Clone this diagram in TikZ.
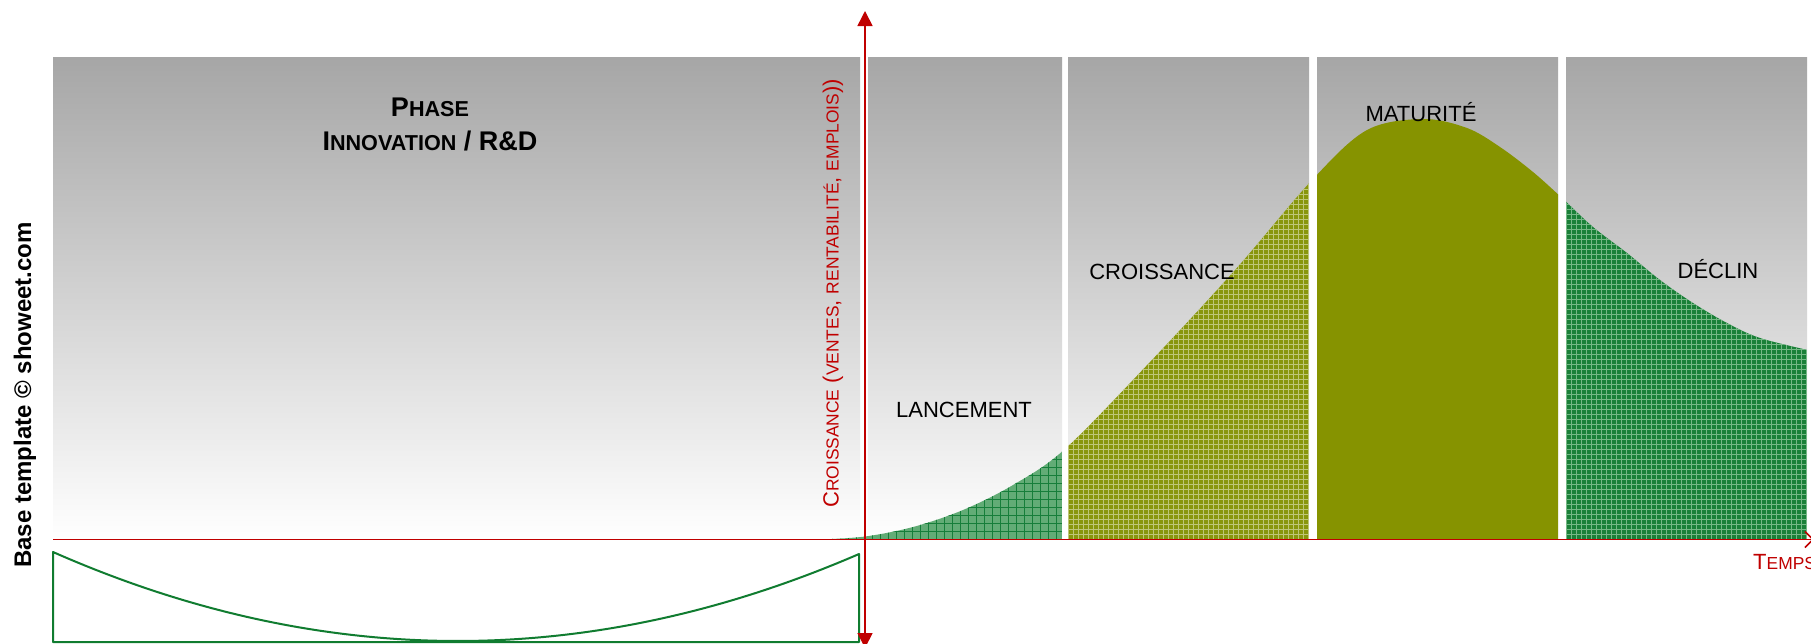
\documentclass[tikz,border=0pt]{standalone}
\usepackage{fontspec}
\setmainfont{Liberation Sans}
\usetikzlibrary{arrows.meta}
\definecolor{axisred}{RGB}{192,0,0}
\definecolor{panelgray}{RGB}{166,166,166}
\definecolor{lanbase}{RGB}{98,172,118}
\definecolor{lanline}{RGB}{22,126,58}
\definecolor{crobase}{RGB}{136,150,12}
\definecolor{croline}{RGB}{190,198,120}
\definecolor{matfill}{RGB}{134,147,0}
\definecolor{decbase}{RGB}{26,128,56}
\definecolor{decline}{RGB}{118,184,134}
\definecolor{boxgreen}{RGB}{16,124,48}
\newcommand\scA[1]{{\fontsize{17.4}{20}\selectfont #1}}
\newcommand\scB[1]{{\fontsize{21.6}{26}\selectfont #1}}
\tikzset{
  panel/.style={top color=panelgray, bottom color=white, draw=none},
  bellcurve/.style={insert path={-- plot[smooth, tension=0.55] coordinates {
    (820,539.5) (865,536.5) (913,527) (963,510) (1013,485) (1065,449)
    (1150,362) (1235,270) (1313,179) (1367,130) (1423,119) (1467,128)
    (1500,147) (1533,172) (1562,198) (1593,227) (1627,253) (1660,280)
    (1693,303) (1727,323) (1760,338) (1812,351)}}},
  phaselabel/.style={font=\fontsize{22}{26}\selectfont, text=black, inner sep=0pt, anchor=base},
  titlelabel/.style={font=\bfseries\fontsize{27}{32}\selectfont, text=black, inner sep=0pt, anchor=base},
  axislabel/.style={font=\fontsize{22}{26}\selectfont, text=axisred, inner sep=0pt},
  creditlabel/.style={font=\bfseries\fontsize{24}{28}\selectfont, text=black, inner sep=0pt},
  axisline/.style={draw=axisred, line width=1.6pt},
  boxline/.style={draw=boxgreen, line width=2pt, line join=round},
}
\begin{document}
\begin{tikzpicture}[x=1pt,y=-1pt]
\useasboundingbox (0,0) rectangle (1811,643);
\fill[white] (0,0) rectangle (1811,643);
% background panels
\shade[panel] (53,57) rectangle (860,539.5);
\shade[panel] (868,57) rectangle (1062,539.5);
\shade[panel] (1068,57) rectangle (1309,539.5);
\shade[panel] (1317,57) rectangle (1558,539.5);
\shade[panel] (1566,57) rectangle (1807,539.5);
% lancement fill
\begin{scope}
  \clip (800,0) rectangle (1062,539.5);
  \clip (820,539.5) [bellcurve] -- (1812,539.5) -- cycle;
  \fill[lanbase] (800,0) rectangle (1062,540);
  \foreach \k in {0,...,33} {\draw[lanline, line width=1pt] ({800+8*\k},300) -- ++(0,240);}
  \foreach \k in {0,...,30} {\draw[lanline, line width=1pt] (800,{539.5-8*\k}) -- ++(262,0);}
\end{scope}
% croissance fill
\begin{scope}
  \clip (1068,0) rectangle (1309,539.5);
  \clip (820,539.5) [bellcurve] -- (1812,539.5) -- cycle;
  \fill[crobase] (1068,0) rectangle (1309,540);
  \foreach \k in {0,...,49} {\draw[croline, line width=0.8pt] ({1068+5*\k},150) -- ++(0,390);}
  \foreach \k in {0,...,78} {\draw[croline, line width=0.8pt] (1068,{539.5-5*\k}) -- ++(241,0);}
\end{scope}
% maturite fill
\begin{scope}
  \clip (1317,0) rectangle (1558,539.5);
  \fill[matfill] (820,539.5) [bellcurve] -- (1812,539.5) -- cycle;
\end{scope}
% declin fill
\begin{scope}
  \clip (1566,0) rectangle (1807,539.5);
  \clip (820,539.5) [bellcurve] -- (1812,539.5) -- cycle;
  \fill[decbase] (1566,0) rectangle (1807,540);
  \foreach \k in {0,...,49} {\draw[decline, line width=0.8pt] ({1566+5*\k},180) -- ++(0,360);}
  \foreach \k in {0,...,72} {\draw[decline, line width=0.8pt] (1566,{539.5-5*\k}) -- ++(241,0);}
\end{scope}
% lower box
\draw[boxline] (53,552) .. controls (321.7,670.3) and (590.3,670.3) .. (859,554) -- (859,642) -- (53,642) -- cycle;
% axes
\coordinate (xo) at (53,539.5);
\coordinate (xe) at (1814,539.5);
\coordinate (yb) at (865,648);
\coordinate (yt) at (865,11);
\draw[axisline, -{Straight Barb[length=8pt,width=16pt]}] (xo) -- (xe);
\draw[axisline, {Triangle[width=15pt,length=15pt]}-{Triangle[width=15pt,length=15pt]}] (yb) -- (yt);
% labels
\node[titlelabel] (title1) at (430,116) {P\scB{HASE}};
\node[titlelabel] (title2) at (430,150) {I\scB{NNOVATION} / R\&D};
\node[phaselabel] (lanc) at (964,417) {LANCEMENT};
\node[phaselabel] (crois) at (1162,279) {CROISSANCE};
\node[phaselabel] (matur) at (1421,121) {MATURITÉ};
\node[phaselabel] (declin) at (1718,278) {DÉCLIN};
\node[axislabel, rotate=90, anchor=base west] (ylab) at (838.5,508)
  {C\scA{ROISSANCE} (\scA{VENTES}, \scA{RENTABILITÉ}, \scA{EMPLOIS}))};
\node[axislabel, anchor=base west] (temps) at (1753,569) {T\scA{EMPS}};
\node[creditlabel, rotate=90, anchor=base west] (credit) at (31,568) {Base template © showeet.com};
\end{tikzpicture}
\end{document}
